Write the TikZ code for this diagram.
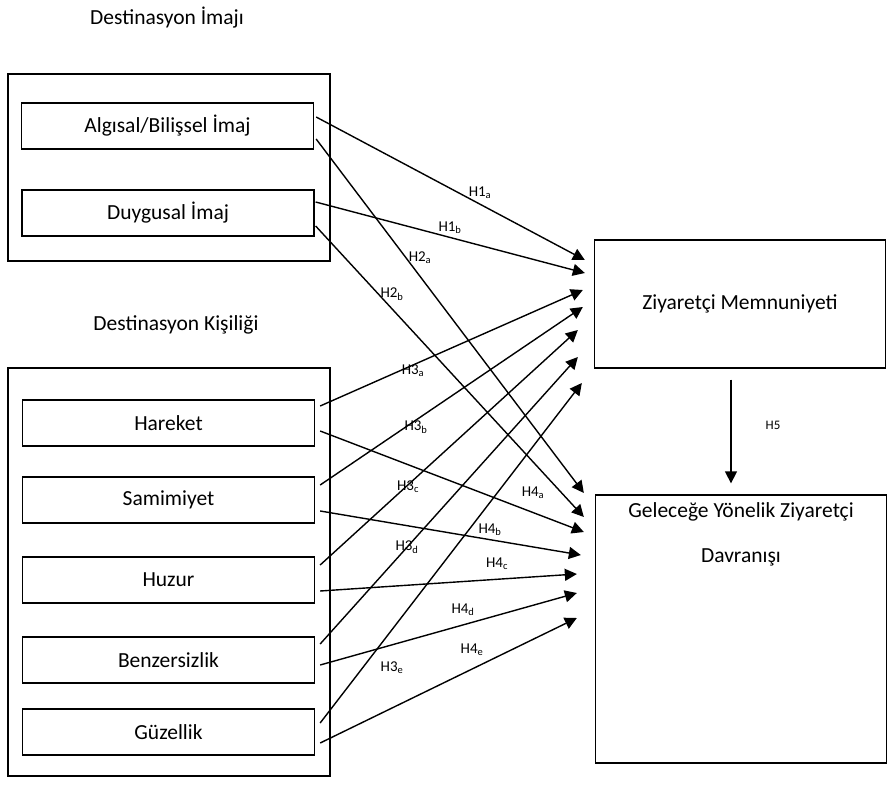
\documentclass[tikz,border=0pt]{standalone}
\usepackage{fontspec}
\setmainfont{Carlito}
\usepackage{tikz}
\usetikzlibrary{arrows.meta}
\newcommand\hyp[4]{\draw[hyp] ([shift={(#2)}]#1.east) -- ([shift={(#4)}]#3.west);}
\newcommand\hlabel[3]{\node[hlab] (#1) at (#2) {#3};}

\begin{document}
\begin{tikzpicture}[x=1pt,y=-1pt]
\tikzstyle{group}=[draw,line width=1.3pt,inner sep=0pt,minimum width=322pt]
\tikzstyle{item}=[draw,line width=1.3pt,inner sep=0pt,minimum width=292pt,minimum height=46pt,font=\fontsize{21.5}{26}\selectfont]
\tikzstyle{outcome}=[draw,line width=1.3pt,inner sep=0pt,minimum width=291pt]
\tikzstyle{title}=[font=\fontsize{21.5}{26}\selectfont]
\tikzstyle{hyp}=[line width=1.4pt,-{Triangle[length=12pt,width=12pt]}]
\tikzstyle{hlab}=[font=\fontsize{15}{18}\selectfont,inner sep=1pt]
\useasboundingbox[fill=white] (0,0) rectangle (887,790);
% destination image
\node[title] (imgtitle) at (167,18) {Destinasyon İmajı};
\node[group,minimum height=187pt] (img) at (169,167.5) {};
\node[item] (alg) at (167.5,126) {Algısal/Bilişsel İmaj};
\node[item] (duy) at (168,213) {Duygusal İmaj};
% destination personality
\node[title] (kistitle) at (176,325) {Destinasyon Kişiliği};
\node[group,minimum height=408pt] (kis) at (169,572) {};
\node[item] (har) at (168.5,423) {Hareket};
\node[item] (sam) at (168.5,500) {Samimiyet};
\node[item] (huz) at (168.5,580) {Huzur};
\node[item] (ben) at (168.5,660) {Benzersizlik};
\node[item] (guz) at (168.5,732) {Güzellik};
% outcomes
\node[outcome,minimum height=128pt,font=\fontsize{21.5}{26}\selectfont] (mem) at (740,304) {Ziyaretçi Memnuniyeti};
\node[outcome,minimum height=268pt] (gel) at (741,629) {};
\node[title,align=center] (geltext) at ([shift={(0,39.5)}]gel.north) {Geleceğe Yönelik Ziyaretçi\\[19pt]Davranışı};
% hypotheses
\hyp{alg}{2,-9}{mem}{-9,-44}
\hyp{alg}{2,13}{gel}{-11,-136}
\hyp{duy}{1,-11}{mem}{-9,-31}
\hyp{duy}{1,13}{gel}{-11,-112}
\hyp{har}{5,-17}{mem}{-11,-14}
\hyp{har}{5,8}{gel}{-11,-97}
\hyp{sam}{5,-15}{mem}{-11,3}
\hyp{sam}{5,11}{gel}{-14,-74}
\hyp{huz}{5,-15}{mem}{-16,26}
\hyp{huz}{5,11}{gel}{-18,-55}
\hyp{ben}{5,-16}{mem}{-16,53}
\hyp{ben}{5,5}{gel}{-18,-36}
\hyp{guz}{5,-9}{mem}{-12,79}
\hyp{guz}{5,11}{gel}{-18,-11}
\draw[hyp] ([shift={(-9,11)}]mem.south) -- ([shift={(-10,-11)}]gel.north);
\hlabel{h1a}{480,193}{H1\textsubscript{a}}
\hlabel{h1b}{450,228}{H1\textsubscript{b}}
\hlabel{h2a}{420,258}{H2\textsubscript{a}}
\hlabel{h2b}{392,294}{H2\textsubscript{b}}
\hlabel{h3a}{413,371}{H3\textsubscript{a}}
\hlabel{h3b}{416,427}{H3\textsubscript{b}}
\hlabel{h3c}{408,487}{H3\textsubscript{c}}
\hlabel{h3d}{407,547}{H3\textsubscript{d}}
\hlabel{h3e}{392,668}{H3\textsubscript{e}}
\hlabel{h4a}{533,493}{H4\textsubscript{a}}
\hlabel{h4b}{490,530}{H4\textsubscript{b}}
\hlabel{h4c}{497,564}{H4\textsubscript{c}}
\hlabel{h4d}{463,610}{H4\textsubscript{d}}
\hlabel{h4e}{472,650}{H4\textsubscript{e}}
\node[hlab,font=\fontsize{13}{15}\selectfont] (h5) at (773,425) {H5};
\end{tikzpicture}
\end{document}
